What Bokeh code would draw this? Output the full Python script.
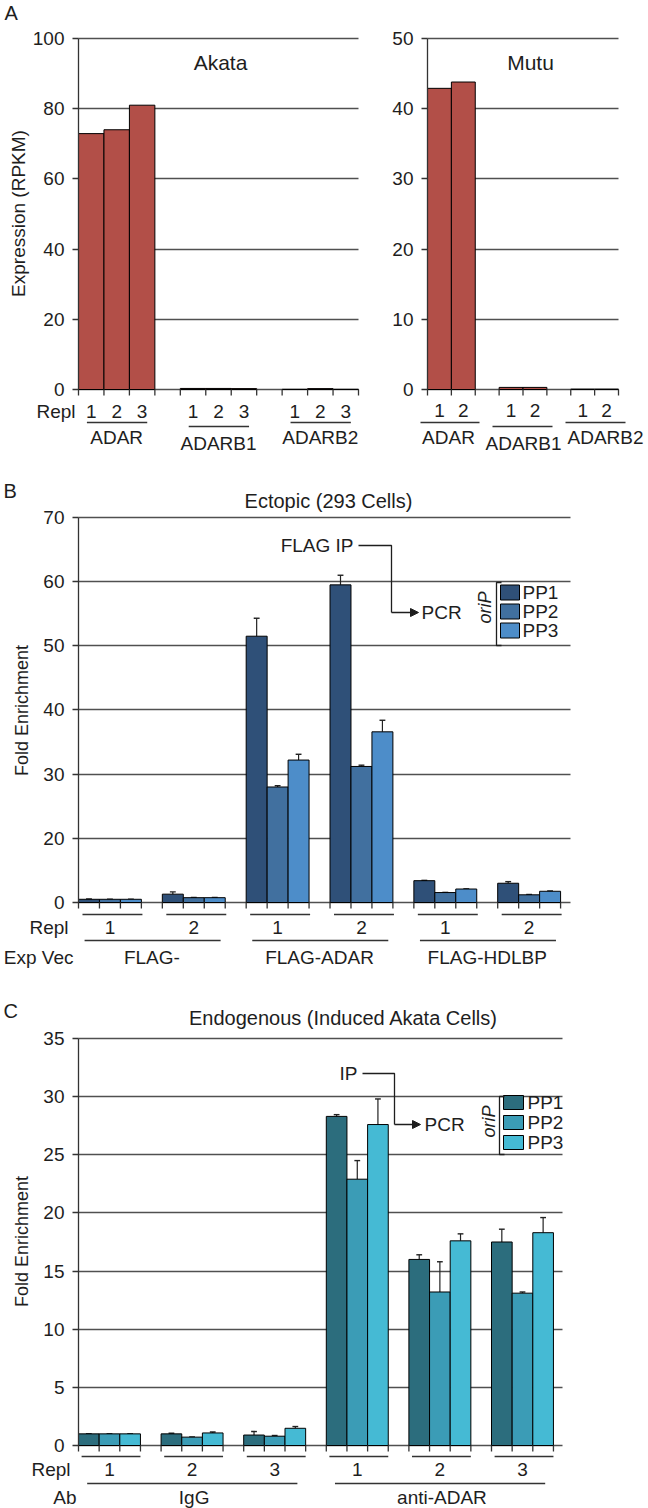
import math
from bokeh.plotting import figure
from bokeh.models import Range1d, FixedTicker, Label, Arrow, NormalHead, Grid
from bokeh.layouts import column, row
from bokeh.embed import file_html
from bokeh.resources import INLINE

FONT = "Liberation Sans"
INK = "#1e1e1e"
GRID = "#505050"

# ---------------- data ----------------
# Panel A: expression (RPKM)
a_genes = ["ADAR", "ADARB1", "ADARB2"]
akata_repl = ["1", "2", "3"]
akata_adar = [72.9, 74.0, 81.0]
akata_adarb1 = [0.3, 0.3, 0.25]
akata_adarb2 = [0.05, 0.25, 0.05]
mutu_repl = ["1", "2"]
mutu_adar = [42.9, 43.8]
mutu_adarb1 = [0.3, 0.3]
mutu_adarb2 = [0.05, 0.05]
akata_ticks = [0, 20, 40, 60, 80, 100]
mutu_ticks = [0, 10, 20, 30, 40, 50]

# Panel B: ectopic, fold enrichment (groups: vector x replicate)
b_vectors = ["FLAG-", "FLAG-ADAR", "FLAG-HDLBP"]
b_repl = ["1", "2"]
b_pp1 = [1.0, 2.6, 51.5, 59.5, 6.8, 6.0]
b_pp1_err = [0.1, 0.7, 2.8, 1.5, 0.1, 0.5]
b_pp2 = [1.0, 1.5, 28.0, 31.2, 3.1, 2.4]
b_pp2_err = [0.05, 0.1, 0.2, 0.2, 0.05, 0.1]
b_pp3 = [1.0, 1.5, 32.2, 36.6, 4.2, 3.5]
b_pp3_err = [0.05, 0.1, 0.9, 1.8, 0.05, 0.1]
b_tick_values = [0, 20, 30, 40, 50, 60, 70]   # printed axis labels (lowest interval spans 0-20)

# Panel C: endogenous, fold enrichment (groups: antibody x replicate)
c_abs = ["IgG", "anti-ADAR"]
c_repl = ["1", "2", "3"]
c_pp1 = [1.0, 1.0, 0.9, 28.3, 16.0, 17.5]
c_pp1_err = [0.02, 0.05, 0.3, 0.15, 0.4, 1.1]
c_pp2 = [1.0, 0.72, 0.8, 22.9, 13.2, 13.1]
c_pp2_err = [0.02, 0.02, 0.06, 1.6, 2.6, 0.1]
c_pp3 = [1.0, 1.08, 1.48, 27.6, 17.6, 18.3]
c_pp3_err = [0.02, 0.08, 0.15, 2.2, 0.6, 1.3]
c_ticks = [0, 5, 10, 15, 20, 25, 30, 35]

series_names = ["PP1", "PP2", "PP3"]
RED = "#b24f48"
B_COLORS = ["#2f5078", "#41709f", "#4d8dc9"]
C_COLORS = ["#2c6d7d", "#3b9cb6", "#45bad4"]


def b_axis(v):
    # the printed B axis has equal spacing for 0-20 and for each later 10-step
    return v / 2.0 if v <= 20 else v - 10.0


# ---------------- helpers ----------------
def make_fig(width, height, xr, yr):
    p = figure(width=width, height=height, x_range=xr, y_range=yr,
               output_backend="svg", toolbar_location=None,
               x_axis_location=None, y_axis_location="left",
               min_border_left=0, min_border_right=0,
               min_border_top=0, min_border_bottom=0)
    p.outline_line_color = None
    p.background_fill_color = "white"
    p.border_fill_color = "white"
    p.xgrid.visible = False
    return p


HAS_CROSS = "cross_bounds" in Grid.properties()


def style_axis(p, ticks, bounds, gx0, gx1, overrides=None):
    ax = p.yaxis[0]
    ax.fixed_location = 0
    ax.ticker = FixedTicker(ticks=ticks)
    ax.bounds = bounds
    ax.minor_tick_line_color = None
    ax.major_tick_in = 0
    ax.major_tick_out = 6
    ax.major_label_standoff = 8
    ax.major_label_text_font = FONT
    ax.major_label_text_font_size = "19px"
    ax.major_label_text_color = INK
    ax.axis_line_color = "#333333"
    ax.axis_line_width = 1.3
    ax.major_tick_line_color = "#333333"
    ax.major_tick_line_width = 1.3
    if overrides:
        ax.major_label_overrides = overrides
    g = p.ygrid[0]
    g.ticker = FixedTicker(ticks=ticks)
    g.grid_line_color = GRID
    g.grid_line_width = 1.5
    if HAS_CROSS:
        g.cross_bounds = (gx0, gx1)
    else:
        g.visible = False
        p.segment(x0=[gx0] * len(ticks), y0=ticks, x1=[gx1] * len(ticks), y1=ticks,
                  line_color=GRID, line_width=1.5, level="underlay")


def txt(p, x, y, s, size="19px", align="center", baseline="middle", angle=0.0, style="normal"):
    p.add_layout(Label(x=x, y=y, text=s, text_font=FONT, text_font_size=size,
                       text_color=INK, text_align=align, text_baseline=baseline,
                       angle=angle, text_font_style=style))


def hline(p, x0, x1, y, width=1.4):
    p.segment(x0=[x0], y0=[y], x1=[x1], y1=[y], line_color="#333333", line_width=width)


def path(p, xs, ys, width=1.3):
    p.line(xs, ys, line_color=INK, line_width=width)


# ================= Panel A: Akata =================
A_TOP, A_BOT = 0, 465
akx = lambda px: (px - 78) / (280 / 11.0)
aky = lambda py: (389 - py) / 3.51
pa = make_fig(390, A_BOT - A_TOP, Range1d(akx(0), akx(390)), Range1d(aky(A_BOT), aky(A_TOP)))
style_axis(pa, akata_ticks, (0, 100), 0, 11)

ak_groups = [akata_adar, akata_adarb1, akata_adarb2]
for gi, vals in enumerate(ak_groups):
    xs = [4 * gi + i + 0.5 for i in range(len(vals))]
    pa.vbar(x=xs, width=1.0, bottom=0, top=vals, fill_color=RED, line_color="black", line_width=1)
    for i, x in enumerate(xs):
        txt(pa, x, aky(411), akata_repl[i])
    yl = aky(426) if gi == 1 else aky(422)
    hline(pa, 4 * gi + 0.33, 4 * gi + 2.7, yl)
    txt(pa, 4 * gi + 1.5, aky(443) if gi == 1 else aky(437), a_genes[gi])
pa.segment(x0=list(range(12)), y0=[0] * 12, x1=list(range(12)), y1=[aky(395)] * 12,
           line_color="#333333", line_width=1.3)
txt(pa, akx(75), aky(411), "Repl", align="right")
txt(pa, akx(18), aky(213), "Expression (RPKM)", angle=math.pi / 2)
txt(pa, akx(4), aky(12), "A", size="20px", align="left")
txt(pa, akx(220), aky(62), "Akata", size="21px")

# ================= Panel A: Mutu =================
mx = lambda px: (px - 427) / (191 / 8.0)
my = lambda py: (389 - py) / 7.02
pm = make_fig(258, A_BOT - A_TOP, Range1d(mx(390), mx(648)), Range1d(my(A_BOT), my(A_TOP)))
style_axis(pm, mutu_ticks, (0, 50), 0, 8)
mu_groups = [mutu_adar, mutu_adarb1, mutu_adarb2]
mu_label_x = [448, 523, 605]
mu_line = [(420, 479, 422), (492, 552, 426), (565, 625, 422)]
for gi, vals in enumerate(mu_groups):
    xs = [3 * gi + i + 0.5 for i in range(len(vals))]
    pm.vbar(x=xs, width=1.0, bottom=0, top=vals, fill_color=RED, line_color="black", line_width=1)
    for i, x in enumerate(xs):
        txt(pm, x, my(410), mutu_repl[i])
    l0, l1, ly = mu_line[gi]
    hline(pm, mx(l0), mx(l1), my(ly))
    txt(pm, mx(mu_label_x[gi]), my(443) if gi == 1 else my(437), a_genes[gi])
pm.segment(x0=list(range(9)), y0=[0] * 9, x1=list(range(9)), y1=[my(395)] * 9,
           line_color="#333333", line_width=1.3)
txt(pm, mx(530), my(62), "Mutu", size="21px")

# ================= Panel B =================
B_TOP, B_BOT = 465, 975
bx = lambda px: (px - 78) / 20.96
by = lambda py: (902 - py) / 6.4167
pb = make_fig(648, B_BOT - B_TOP, Range1d(bx(0), bx(648)), Range1d(by(B_BOT), by(B_TOP)))
b_pos_ticks = [b_axis(v) for v in b_tick_values]
style_axis(pb, b_pos_ticks, (0, b_axis(70)), 0, bx(570),
           overrides={int(b_axis(v)): str(v) for v in b_tick_values})


def bars_with_err(p, series, errs, colors, conv):
    for si, (vals, err) in enumerate(zip(series, errs)):
        xs = [4 * g + si + 0.5 for g in range(len(vals))]
        tops = [conv(v) for v in vals]
        etop = [conv(v + e) for v, e in zip(vals, err)]
        p.segment(x0=xs, y0=tops, x1=xs, y1=etop, line_color="#222222", line_width=1.2)
        p.segment(x0=[x - 0.14 for x in xs], y0=etop, x1=[x + 0.14 for x in xs], y1=etop,
                  line_color="#222222", line_width=1.4)
        p.vbar(x=xs, width=1.0, bottom=0, top=tops, fill_color=colors[si],
               line_color="black", line_width=1)


bars_with_err(pb, [b_pp1, b_pp2, b_pp3], [b_pp1_err, b_pp2_err, b_pp3_err], B_COLORS, b_axis)
pb.segment(x0=list(range(24)), y0=[0] * 24, x1=list(range(24)), y1=[by(908)] * 24,
           line_color="#333333", line_width=1.3)
for g in range(6):
    hline(pb, 4 * g + 0.19, 4 * g + 3.05, by(914))
    txt(pb, 4 * g + 1.5, by(927), b_repl[g % 2])
for k in range(3):
    hline(pb, 8 * k + 0.29, 8 * k + 6.78, by(940))
    txt(pb, 8 * k + 3.5, by(957), b_vectors[k])
txt(pb, bx(68), by(927), "Repl", align="right")
txt(pb, bx(73), by(957), "Exp Vec", align="right")
txt(pb, bx(328), by(500), "Ectopic (293 Cells)", size="20px")
txt(pb, bx(3), by(490), "B", size="20px", align="left")
txt(pb, bx(21), by(710), "Fold Enrichment", size="18px", angle=math.pi / 2)
# legend
for i, (name, col) in enumerate(zip(series_names, B_COLORS)):
    cyy = [592, 611, 630][i]
    pb.quad(left=bx(500), right=bx(519), top=by(cyy - 7.5), bottom=by(cyy + 7.5),
            fill_color=col, line_color="black", line_width=1)
    txt(pb, bx(522), by(cyy), name, align="left")
pb.line([bx(501), bx(496), bx(496), bx(501)], [by(582), by(582), by(645), by(645)],
        line_color=INK, line_width=1.3)
txt(pb, bx(484), by(607), "oriP", size="18px", angle=math.pi / 2, style="italic")
txt(pb, bx(353), by(545), "FLAG IP", align="right")
path(pb, [bx(358), bx(391), bx(391)], [by(545), by(545), by(612)])
pb.add_layout(Arrow(end=NormalHead(size=8, fill_color=INK, line_color=INK), start=None,
                    x_start=bx(391), y_start=by(612), x_end=bx(418), y_end=by(612),
                    line_color=INK, line_width=1.3))
txt(pb, bx(421), by(612), "PCR", align="left")

# ================= Panel C =================
C_TOP, C_BOT = 975, 1508
cx = lambda px: (px - 78) / 20.65
cy = lambda py: (1445 - py) / 11.629
pc = make_fig(648, C_BOT - C_TOP, Range1d(cx(0), cx(648)), Range1d(cy(C_BOT), cy(C_TOP)))
style_axis(pc, c_ticks, (0, 35), 0, cx(562))
bars_with_err(pc, [c_pp1, c_pp2, c_pp3], [c_pp1_err, c_pp2_err, c_pp3_err], C_COLORS, lambda v: v)
pc.segment(x0=list(range(24)), y0=[0] * 24, x1=list(range(24)), y1=[cy(1451)] * 24,
           line_color="#333333", line_width=1.3)
for g in range(6):
    hline(pc, 4 * g + 0.15, 4 * g + 3.0, cy(1456))
    txt(pc, 4 * g + 1.5, cy(1469), c_repl[g % 3])
for k in range(2):
    hline(pc, 12 * k + 0.42, 12 * k + 10.6, cy(1483))
    txt(pc, 12 * k + 5.6, cy(1497), c_abs[k])
txt(pc, cx(70), cy(1469), "Repl", align="right")
txt(pc, cx(76), cy(1497), "Ab", align="right")
txt(pc, cx(343), cy(1017), "Endogenous (Induced Akata Cells)", size="20px")
txt(pc, cx(3), cy(1010), "C", size="20px", align="left")
txt(pc, cx(21), cy(1241), "Fold Enrichment", size="18px", angle=math.pi / 2)
for i, (name, col) in enumerate(zip(series_names, C_COLORS)):
    cyy = [1102, 1122, 1142][i]
    pc.quad(left=cx(503), right=cx(523), top=cy(cyy - 7), bottom=cy(cyy + 7),
            fill_color=col, line_color="black", line_width=1)
    txt(pc, cx(527), cy(cyy), name, align="left")
pc.line([cx(504), cx(499), cx(499), cx(504)], [cy(1096), cy(1096), cy(1154), cy(1154)],
        line_color=INK, line_width=1.3)
txt(pc, cx(488), cy(1121), "oriP", size="18px", angle=math.pi / 2, style="italic")
txt(pc, cx(357), cy(1073), "IP", align="right")
path(pc, [cx(362), cx(394), cx(394)], [cy(1073), cy(1073), cy(1124)])
pc.add_layout(Arrow(end=NormalHead(size=8, fill_color=INK, line_color=INK), start=None,
                    x_start=cx(394), y_start=cy(1124), x_end=cx(420), y_end=cy(1124),
                    line_color=INK, line_width=1.3))
txt(pc, cx(424), cy(1124), "PCR", align="left")

layout = column(row(pa, pm, spacing=0), pb, pc, spacing=0)
open("out.html", "w").write(file_html(layout, INLINE, title="chart"))
